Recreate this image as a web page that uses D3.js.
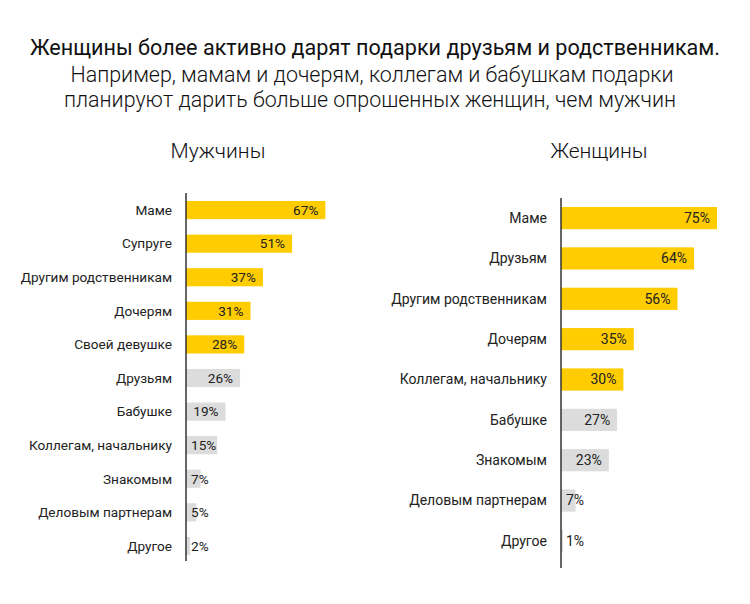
<!DOCTYPE html>
<html><head><meta charset="utf-8">
<script src="https://cdn.jsdelivr.net/npm/d3@7"></script>
<style>body{margin:0;background:#fff}svg{display:block}text{font-family:Roboto,"Open Sans",sans-serif}</style>
</head><body><svg id="c" width="750" height="604"></svg>
<script>
const titleLines = ["Женщины более активно дарят подарки друзьям и родственникам.",
  "Например, мамам и дочерям, коллегам и бабушкам подарки",
  "планируют дарить больше опрошенных женщин, чем мужчин"];
const menCategories = ["Маме","Супруге","Другим родственникам","Дочерям","Своей девушке","Друзьям","Бабушке","Коллегам, начальнику","Знакомым","Деловым партнерам","Другое"];
const menValues = [67,51,37,31,28,26,19,15,7,5,2];
const menHighlight = [1,1,1,1,1,0,0,0,0,0,0];
const womenCategories = ["Маме","Друзьям","Другим родственникам","Дочерям","Коллегам, начальнику","Бабушке","Знакомым","Деловым партнерам","Другое"];
const womenValues = [75,64,56,35,30,27,23,7,1];
const womenHighlight = [1,1,1,1,1,0,0,0,0];

const svg = d3.select("#c");
const t = svg.append("g");
function fitText(sel, w){ sel.attr("textLength", w).attr("lengthAdjust","spacingAndGlyphs"); }
const l1 = t.append("text").attr("x",375).attr("y",55).attr("text-anchor","middle").attr("font-size",21.5).attr("font-weight",400).attr("fill","#111").text(titleLines[0]);
fitText(l1, 690);
const l2 = t.append("text").attr("x",372).attr("y",82).attr("text-anchor","middle").attr("font-size",21.5).attr("font-weight",300).attr("fill","#111").text(titleLines[1]);
fitText(l2, 603);
const l3 = t.append("text").attr("x",370).attr("y",107).attr("text-anchor","middle").attr("font-size",21.5).attr("font-weight",300).attr("fill","#111").text(titleLines[2]);
fitText(l3, 612);

function panel(opts){
  const {cats, vals, hi, axisX, top, bottom, axisTop, axisBottom, title, titleX, fs} = opts;
  const g = svg.append("g");
  const x = d3.scaleLinear().domain([0,100]).range([axisX, axisX+208]);
  const y = d3.scaleBand().domain(cats).range([top,bottom]).paddingInner(opts.pad).paddingOuter(0);
  g.append("text").attr("x",titleX).attr("y",158).attr("text-anchor","middle").attr("font-size",21).attr("font-weight",300).attr("fill","#111").text(title);
  cats.forEach((c,i)=>{
    const yc = y(c)+y.bandwidth()/2;
    g.append("rect").attr("x",x(0)).attr("y",y(c)).attr("width",x(vals[i])-x(0)).attr("height",y.bandwidth())
      .attr("fill",hi[i]?"#FFCC00":"#DCDCDC");
    g.append("text").attr("x",axisX-14).attr("y",yc).attr("dy","0.35em").attr("text-anchor","end").attr("font-size",fs).attr("fill","#222").text(c);
    const lbl = g.append("text").attr("y",yc).attr("dy","0.35em").attr("font-size",fs).attr("fill","#222").text(vals[i]+"%");
    const w = lbl.node().getComputedTextLength();
    const xs = Math.max(x(vals[i])-7-w, axisX+5);
    lbl.attr("x",xs);
  });
  g.append("line").attr("x1",axisX).attr("x2",axisX).attr("y1",axisTop).attr("y2",axisBottom).attr("stroke","#333").attr("stroke-width",1.5);
}
panel({cats:menCategories, vals:menValues, hi:menHighlight, axisX:186, top:201, bottom:555, pad:0.46, axisTop:193, axisBottom:561, title:"Мужчины", titleX:218, fs:13.6});
panel({cats:womenCategories, vals:womenValues, hi:womenHighlight, axisX:561, top:207, bottom:552, pad:0.45, axisTop:198, axisBottom:568, title:"Женщины", titleX:599, fs:14});
</script></body></html>
